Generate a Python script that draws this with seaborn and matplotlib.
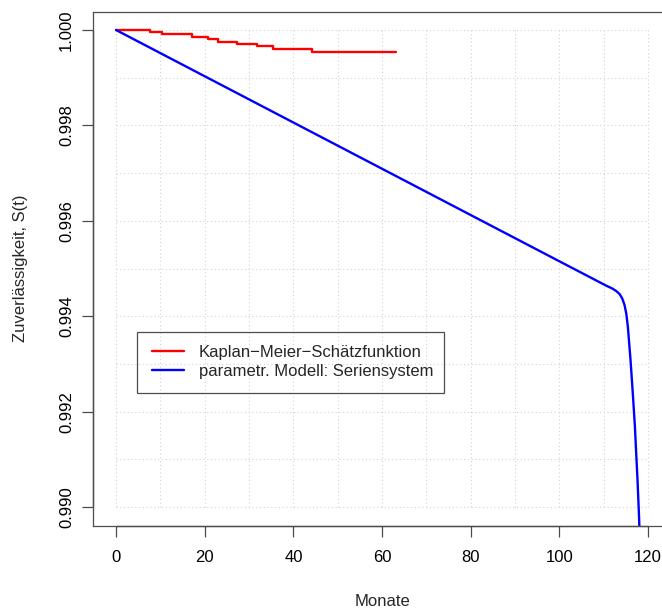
import matplotlib
matplotlib.use("Agg")
import matplotlib.pyplot as plt
import matplotlib.transforms as mtransforms
from matplotlib.patches import Rectangle
import numpy as np
import pandas as pd
import seaborn as sns

# Kaplan-Meier step estimate (months, survival)
km_months = [0, 7.7, 10.3, 17.1, 20.8, 23.1, 27.2, 31.7, 35.5, 44.1, 63.2]
km_surv = [1.0, 0.999951, 0.999909, 0.999860, 0.999811, 0.999755,
           0.999706, 0.999658, 0.999609, 0.999546, 0.999546]

# parametric series-system model
model_months = [0, 20, 40, 60, 80, 100, 110.69, 111.82, 112.79, 113.54, 114.14,
                114.67, 115.05, 115.42, 115.72, 116.02, 116.33, 116.63, 117.01,
                117.30, 117.60, 117.91, 118.05]
model_surv = [1.0, 0.99903, 0.99806, 0.99709, 0.99612, 0.99515, 0.994633,
              0.994585, 0.994528, 0.994465, 0.994375, 0.994235, 0.994060,
              0.993780, 0.993431, 0.993082, 0.992662, 0.992243, 0.991684,
              0.991126, 0.990566, 0.989868, 0.989518]

x_ticks = [0, 20, 40, 60, 80, 100, 120]
y_ticks = [0.990, 0.992, 0.994, 0.996, 0.998, 1.000]
y_ticklabels = ["0.990", "0.992", "0.994", "0.996", "0.998", "1.000"]

km = pd.DataFrame({"Monate": km_months, "S": km_surv})
model = pd.DataFrame({"Monate": model_months, "S": model_surv})

sns.set_style("ticks")
plt.rcParams["font.family"] = ["Liberation Sans", "DejaVu Sans"]

W, H = 662, 610
fig = plt.figure(figsize=(W / 100, H / 100), dpi=100)
ax = fig.add_axes([93 / W, (H - 525.5) / H, (673 - 93) / W, (525.5 - 11.5) / H])

# dotted grid, only inside the data range
grid_kw = dict(color="#d3d3d3", lw=0.8, linestyle=(0, (1, 2.4)), zorder=0)
ax.vlines(np.arange(0, 121, 10), 0.990, 1.000, **grid_kw)
ax.hlines(np.arange(0.990, 1.0005, 0.001), 0, 120, **grid_kw)

sns.lineplot(data=km, x="Monate", y="S", drawstyle="steps-post", color="red",
             lw=1.7, estimator=None, label="Kaplan\u2212Meier\u2212Schätzfunktion", ax=ax)
sns.lineplot(data=model, x="Monate", y="S", color="blue", lw=1.7,
             estimator=None, label="parametr. Modell: Seriensystem", ax=ax)

ax.set_xlim(-5.2, 125.6)
ax.set_ylim(0.989612, 1.000388)
ax.set_xticks(x_ticks)
ax.set_yticks(y_ticks)
ax.set_yticklabels(y_ticklabels)
ax.tick_params(axis="both", direction="out", length=7.6, width=0.9,
               color="#4d4d4d", labelsize=12, labelcolor="black",
               bottom=True, left=True)
ax.tick_params(axis="x", pad=10)
ax.tick_params(axis="y", pad=6, labelrotation=90)
for lbl in ax.get_yticklabels():
    lbl.set_va("center")

for side in ["left", "top", "bottom"]:
    ax.spines[side].set_color("#4d4d4d")
    ax.spines[side].set_linewidth(0.9)
ax.spines["right"].set_visible(False)

# black axis lines over the tick range, as R draws them
bx = mtransforms.blended_transform_factory(ax.transData, ax.transAxes)
by = mtransforms.blended_transform_factory(ax.transAxes, ax.transData)
ax.plot([0, 120], [0, 0], transform=bx, color="black", lw=0.9, clip_on=False)
ax.plot([0, 0], [0.990, 1.000], transform=by, color="black", lw=0.9, clip_on=False)

ax.set_xlabel("Monate", fontsize=12)
ax.set_ylabel("Zuverlässigkeit, S(t)", fontsize=12)
ax.xaxis.set_label_coords(0.5, (525.5 - 601) / 514)
ax.xaxis.label.set_va("center")
ax.yaxis.set_label_coords((21 - 93) / 580, 0.5)
ax.yaxis.label.set_va("center")

ax.legend(loc="upper left", bbox_to_anchor=(152 / W, (H - 345) / H),
          bbox_transform=fig.transFigure, frameon=False, borderpad=0,
          borderaxespad=0, fontsize=12, handlelength=1.92, handletextpad=0.9,
          labelspacing=0.24)
fig.patches.append(Rectangle((137 / W, (H - 393) / H), (444 - 137) / W, 61 / H,
                             transform=fig.transFigure, fill=False,
                             edgecolor="#4d4d4d", lw=0.9))

fig.savefig("out.png", dpi=100)
